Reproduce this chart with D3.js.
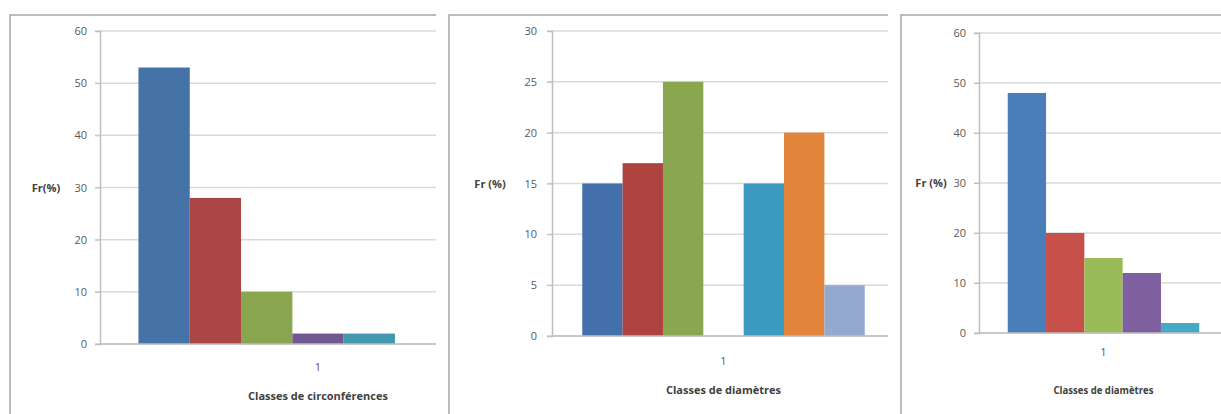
<!DOCTYPE html>
<html>
<head>
<meta charset="utf-8">
<script src="https://cdn.jsdelivr.net/npm/d3@7"></script>
<style>
  body { margin: 0; background: #fff; }
  text { font-family: "Open Sans", "Liberation Sans", sans-serif; }
</style>
</head>
<body>
<svg id="chart" width="1221" height="414"></svg>
<script>
// data
var categories = ["1"];

var circValues = [53, 28, 10, 2, 2, 0, 0];
var circColors = ["#4572a7", "#aa4643", "#89a54e", "#71588f", "#4198af", "#db843d", "#93a9cf"];
var circTicks = [0, 10, 20, 30, 40, 50, 60];

var diamValues = [15, 17, 25, 0, 15, 20, 5];
var diamColors = ["#4370ab", "#ae423f", "#8aa64f", "#71588f", "#3c9ac0", "#e0853a", "#93a9d0"];
var diamTicks = [0, 5, 10, 15, 20, 25, 30];

var diam2Values = [48, 20, 15, 12, 2];
var diam2Colors = ["#4a7ebb", "#c8504b", "#9bbb59", "#7e5fa0", "#46aac5"];
var diam2Ticks = [0, 10, 20, 30, 40, 50, 60];

var svg = d3.select("#chart");

function panel(id, box, plot, values, colors, ticks, yLabel, xLabel, opts) {
  svg.append("clipPath").attr("id", id)
    .append("rect").attr("x", box.x - 2).attr("y", box.y - 2).attr("width", box.w + 2).attr("height", box.h);

  var g = svg.append("g").attr("clip-path", "url(#" + id + ")");

  // border runs on past the clip on the right, like the cut-off charts
  g.append("rect")
    .attr("x", box.x).attr("y", box.y).attr("width", box.w + 20).attr("height", box.h)
    .attr("fill", "#fff").attr("stroke", "#a6a6a6").attr("stroke-width", 1.5);

  var y = d3.scaleLinear().domain([0, d3.max(ticks)]).range([plot.bottom, plot.top]);
  var x = d3.scaleBand().domain(categories).range([plot.left, plot.right])
    .paddingInner(0).paddingOuter(0.75 / values.length);
  var xs = d3.scaleBand().domain(d3.range(values.length)).range([0, x.bandwidth()]).padding(0);

  // gridlines
  g.append("g").selectAll("line").data(ticks).enter().append("line")
    .attr("x1", plot.left - 5).attr("x2", plot.right)
    .attr("y1", function(d) { return y(d); }).attr("y2", function(d) { return y(d); })
    .attr("stroke", "#d9d9d9").attr("stroke-width", 1.5);

  // y axis
  var yAxis = g.append("g").attr("transform", "translate(" + plot.left + ",0)")
    .call(d3.axisLeft(y).tickValues(ticks).tickSize(5).tickPadding(opts.tickPad));
  yAxis.select(".domain").attr("stroke", "#bfbfbf").attr("stroke-width", 1.5);
  yAxis.selectAll(".tick line").attr("stroke", "#bfbfbf");
  yAxis.selectAll(".tick text").attr("fill", "#595959").style("font-size", "11px")
    .style("font-family", "\"Open Sans\", sans-serif");

  // bars
  g.append("g").selectAll("rect").data(values).enter().append("rect")
    .attr("x", function(d, i) { return x("1") + xs(i); })
    .attr("width", xs.bandwidth())
    .attr("y", function(d) { return y(d); })
    .attr("height", function(d) { return y(0) - y(d); })
    .attr("fill", function(d, i) { return colors[i]; });

  // x axis baseline
  g.append("line").attr("x1", plot.left).attr("x2", plot.right)
    .attr("y1", y(0)).attr("y2", y(0)).attr("stroke", "#bfbfbf").attr("stroke-width", 1.5);

  var cx = x("1") + x.bandwidth() / 2;
  g.append("text").attr("x", cx).attr("y", opts.catY)
    .attr("text-anchor", "middle").attr("fill", "#595959").style("font-size", "11px")
    .text(categories[0]);

  var xl = g.append("text").attr("x", cx).attr("y", opts.xLabelY)
    .attr("text-anchor", "middle").attr("fill", "#404040")
    .style("font-size", "11px").style("font-weight", "bold")
    .text(xLabel);
  if (opts.xLabelLen) xl.attr("textLength", opts.xLabelLen).attr("lengthAdjust", "spacingAndGlyphs");

  g.append("text").attr("x", opts.yLabelX).attr("y", y(30 * d3.max(ticks) / 60) + 4)
    .attr("text-anchor", "middle").attr("fill", "#404040")
    .style("font-size", "11px").style("font-weight", "bold")
    .text(yLabel);
}

panel("p1", {x: 10, y: 15, w: 426, h: 420},
  {left: 100, right: 536, top: 31, bottom: 344},
  circValues, circColors, circTicks, "Fr(%)", "Classes de circonférences",
  {tickPad: 8, catY: 371, xLabelY: 400, yLabelX: 46});

panel("p2", {x: 449, y: 15, w: 439, h: 420},
  {left: 552, right: 895, top: 31, bottom: 336},
  diamValues, diamColors, diamTicks, "Fr (%)", "Classes de diamètres",
  {tickPad: 10, catY: 365, xLabelY: 394, yLabelX: 490});

panel("p3", {x: 901, y: 15, w: 340, h: 420},
  {left: 979, right: 1228, top: 33, bottom: 333},
  diam2Values, diam2Colors, diam2Ticks, "Fr (%)", "Classes de diamètres",
  {tickPad: 8, catY: 356, xLabelY: 394, yLabelX: 931, xLabelLen: 100});
</script>
</body>
</html>
